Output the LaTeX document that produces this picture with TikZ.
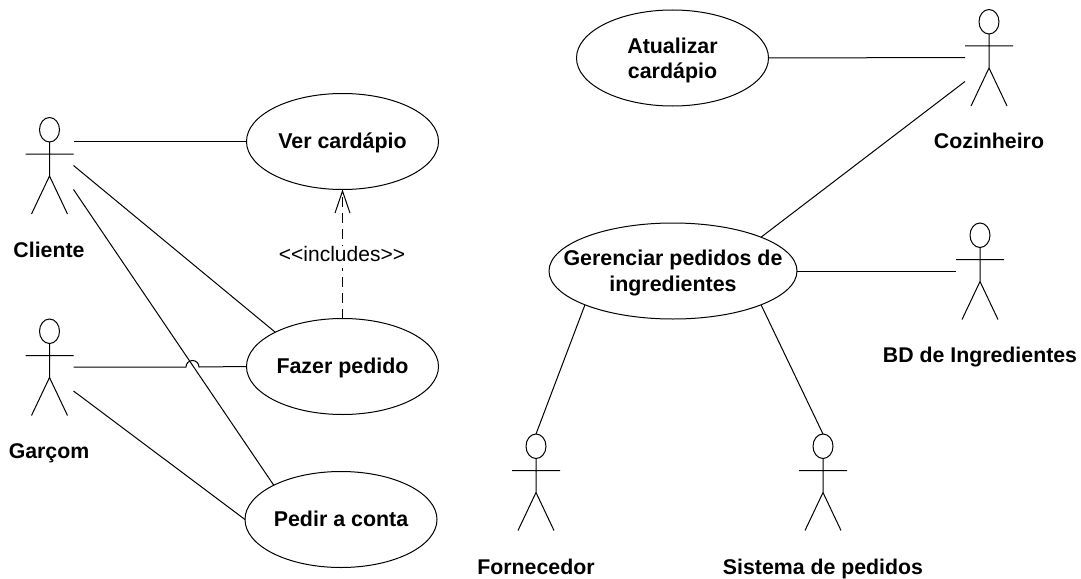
\documentclass[tikz,border=0pt]{standalone}
\usepackage{fontspec}
\setmainfont{Liberation Sans}
\usetikzlibrary{shapes.geometric,arrows.meta}
\tikzset{
  usecase/.style={draw,ellipse,inner xsep=-30pt,inner ysep=-10pt,outer sep=0pt,minimum width=192pt,minimum height=96pt,align=center,line width=1pt,font=\fontsize{21.4}{25}\selectfont\bfseries},
  oneline/.style={text height=19pt,text depth=5pt},
  actorname/.style={inner sep=0pt,text height=15pt,text depth=5pt,font=\fontsize{21.3}{25}\selectfont\bfseries},
  assoc/.style={draw,line width=1pt},
  incl/.style={draw,line width=1pt,dash pattern=on 10pt off 6pt,-{Straight Barb[length=22pt,width=15pt,line width=1pt]}},
  pics/actor/.style={code={
    \node[draw,ellipse,inner sep=0pt,outer sep=0pt,minimum width=20pt,minimum height=24.5pt,line width=1pt] (-head) at (0,12.25) {};
    \coordinate (-armL) at (-24,36.5);
    \coordinate (-armR) at (24,36.5);
    \coordinate (-crotch) at (0,58.5);
    \coordinate (-footL) at (-18,96.5);
    \coordinate (-footR) at (18,96.5);
    \coordinate (-pe1) at (24,24);
    \coordinate (-pe2) at (24,48);
    \coordinate (-pe3) at (24,72);
    \coordinate (-pw2) at (-24,48);
    \coordinate (-pw3) at (-24,72);
    \draw[line width=1pt] (-head.south) -- (-crotch) (-armL) -- (-armR) (-footL) -- (-crotch) -- (-footR);
  }}
}
\begin{document}
\begin{tikzpicture}[x=1pt,y=-1pt]
\useasboundingbox (0,0) rectangle (1081,578);
% use cases
\node[usecase,oneline] (ver) at (342.5,141.5) {Ver cardápio};
\node[usecase,oneline] (fazer) at (342.5,366.5) {Fazer pedido};
\node[usecase,oneline] (pedir) at (341,519.5) {Pedir a conta};
\node[usecase] (atual) at (672.5,58) {\rule{0pt}{20pt}Atualizar\\cardápio};
\node[usecase,minimum width=248pt] (ger) at (673,271) {\rule{0pt}{20pt}Gerenciar pedidos de\\[1pt]ingredientes};
% actors
\pic (cli) at (49.5,117.5) {actor};
\pic (gar) at (49.5,319) {actor};
\pic (coz) at (989,9.5) {actor};
\pic (bd) at (980,223) {actor};
\pic (forn) at (536,434) {actor};
\pic (sis) at (823,434) {actor};
% names
\node[actorname] (ncli) at (49,252) {Cliente};
\node[actorname] (ngar) at (49,453) {Garçom};
\node[actorname] (ncoz) at (989,143) {Cozinheiro};
\node[actorname] (nbd) at (980,357.7) {BD de Ingredientes};
\node[actorname] (nforn) at (536,569) {Fornecedor};
\node[actorname] (nsis) at (823,569) {Sistema de pedidos};
% associations
\draw[assoc] (cli-pe1) -- (ver.west);
\draw[assoc] (cli-pe2) -- (fazer.153.3);
\draw[assoc] (cli-pe3) -- (pedir.153.8);
\coordinate (jump) at (186,367);
\draw[assoc] (gar-pe2) -- (jump) arc[start angle=180,end angle=0,radius=6.5pt] -- (fazer.west);
\draw[assoc] (gar-pe3) -- (pedir.west);
\draw[assoc] (atual.east) -- (coz-pw2);
\draw[assoc] (ger.21.3) -- (coz-pw3);
\draw[assoc] (ger.east) -- (bd-pw2);
\draw[assoc] (ger.201.1) -- (forn-head.north);
\draw[assoc] (ger.-21) -- (sis-head.north);
% include
\draw[incl] (fazer.north) -- (ver.south);
\node[fill=white,inner sep=1pt,text height=15pt,text depth=5pt,font=\fontsize{21}{25}\selectfont] (lab) at (342,256.7) {<{}<includes>{}>};
\end{tikzpicture}
\end{document}
